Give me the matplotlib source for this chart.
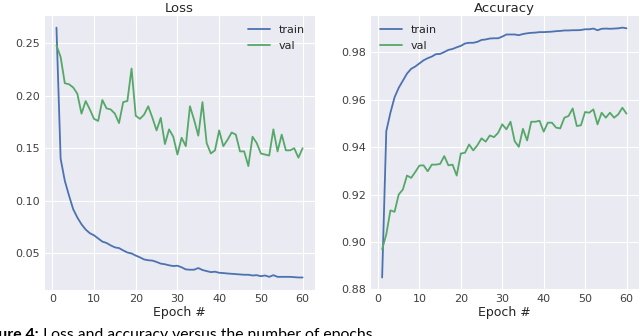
import numpy as np
import matplotlib
matplotlib.use("Agg")
import matplotlib.pyplot as plt
import seaborn as sns

sns.set_style("darkgrid")
plt.rcParams['font.family'] = ['DejaVu Sans']

epochs = list(range(1, 61))

train_loss = [0.265, 0.140, 0.119, 0.105, 0.092, 0.084, 0.0775, 0.0725, 0.069, 0.067,
              0.064, 0.061, 0.0597, 0.0574, 0.0555, 0.0548, 0.0526, 0.0506, 0.0497, 0.0477,
              0.046, 0.044, 0.0432, 0.0429, 0.0416, 0.040, 0.0394, 0.0384, 0.0377, 0.038,
              0.0365, 0.0345, 0.0342, 0.0342, 0.0358, 0.0339, 0.0329, 0.0319, 0.0323, 0.0313,
              0.031, 0.0306, 0.0303, 0.030, 0.0297, 0.0294, 0.0294, 0.0287, 0.029, 0.028,
              0.0287, 0.0274, 0.029, 0.0274, 0.0274, 0.0274, 0.0274, 0.0271, 0.0268, 0.0268]

val_loss = [0.248, 0.237, 0.212, 0.211, 0.208, 0.202, 0.183, 0.195, 0.187, 0.178,
            0.176, 0.196, 0.188, 0.187, 0.183, 0.174, 0.194, 0.195, 0.226, 0.181,
            0.178, 0.182, 0.190, 0.179, 0.167, 0.179, 0.154, 0.168, 0.161, 0.144,
            0.160, 0.152, 0.190, 0.177, 0.162, 0.194, 0.155, 0.145, 0.148, 0.167,
            0.152, 0.158, 0.165, 0.163, 0.147, 0.147, 0.133, 0.161, 0.155, 0.145,
            0.144, 0.143, 0.168, 0.147, 0.163, 0.148, 0.148, 0.150, 0.141, 0.150]

train_acc = [0.885, 0.9467, 0.9545, 0.961, 0.965, 0.968, 0.971, 0.973, 0.974, 0.9753,
             0.9766, 0.9775, 0.9782, 0.9792, 0.9793, 0.9801, 0.981, 0.9814, 0.9821, 0.9827,
             0.9837, 0.984, 0.984, 0.9844, 0.9852, 0.9854, 0.9858, 0.9859, 0.9859, 0.9866,
             0.9875, 0.9875, 0.9875, 0.9872, 0.9877, 0.988, 0.9882, 0.9883, 0.9885, 0.9885,
             0.9886, 0.9887, 0.9889, 0.989, 0.9892, 0.9892, 0.9893, 0.9893, 0.9894, 0.9897,
             0.9897, 0.990, 0.9893, 0.9899, 0.990, 0.9899, 0.990, 0.9901, 0.9904, 0.9901]

val_acc = [0.8969, 0.9032, 0.9133, 0.9127, 0.920, 0.9221, 0.928, 0.927, 0.9295, 0.9322,
           0.9323, 0.9298, 0.9326, 0.9326, 0.9329, 0.9362, 0.9323, 0.9326, 0.928, 0.9373,
           0.9376, 0.9411, 0.9386, 0.9408, 0.9437, 0.9423, 0.9449, 0.9442, 0.946, 0.9496,
           0.9475, 0.9507, 0.9425, 0.9401, 0.9477, 0.9428, 0.9507, 0.9507, 0.9511, 0.9465,
           0.9503, 0.9503, 0.9482, 0.9479, 0.9524, 0.9531, 0.9563, 0.9489, 0.9492, 0.9548,
           0.9545, 0.9559, 0.9496, 0.9545, 0.9524, 0.9545, 0.9524, 0.9538, 0.9566, 0.9541]

blue = "#4C72B0"
green = "#55A868"

fig = plt.figure(figsize=(6.4, 3.36), dpi=100)
ax1 = fig.add_axes([0.069, 0.137, 0.423, 0.818])
ax2 = fig.add_axes([0.578, 0.137, 0.42, 0.818])

ax1.plot(epochs, train_loss, color=blue, lw=1.3, label="train")
ax1.plot(epochs, val_loss, color=green, lw=1.3, label="val")
ax1.set_title("Loss", fontsize=9.5, pad=2)
ax1.set_yticks([0.05, 0.10, 0.15, 0.20, 0.25])
ax1.legend(loc="upper right", frameon=False, fontsize=8)

ax2.plot(epochs, train_acc, color=blue, lw=1.3, label="train")
ax2.plot(epochs, val_acc, color=green, lw=1.3, label="val")
ax2.set_title("Accuracy", fontsize=9.5, pad=2)
ax2.set_yticks([0.88, 0.90, 0.92, 0.94, 0.96, 0.98])
ax2.legend(loc="upper left", frameon=False, fontsize=8)

for ax in (ax1, ax2):
    ax.set_xticks([0, 10, 20, 30, 40, 50, 60])
    ax.set_xlabel("Epoch #", fontsize=9, labelpad=1)
    ax.tick_params(labelsize=8, pad=3, length=0)
    for t in ax.get_xticklabels() + ax.get_yticklabels():
        t.set_color("0.25")

# caption, partly cut off like the original page crop
cap1 = fig.text(-0.036, -0.010, "Figure 4:", fontsize=11.3, family="Lato",
                weight="bold", va="baseline", ha="left", color="black")
renderer = fig.canvas.get_renderer()
bb = cap1.get_window_extent(renderer).transformed(fig.transFigure.inverted())
fig.text(bb.x1 + 0.007, -0.010, "Loss and accuracy versus the number of epochs.",
         fontsize=11.3, family="Lato", va="baseline", ha="left", color="black")

fig.savefig("out.png", dpi=100)
